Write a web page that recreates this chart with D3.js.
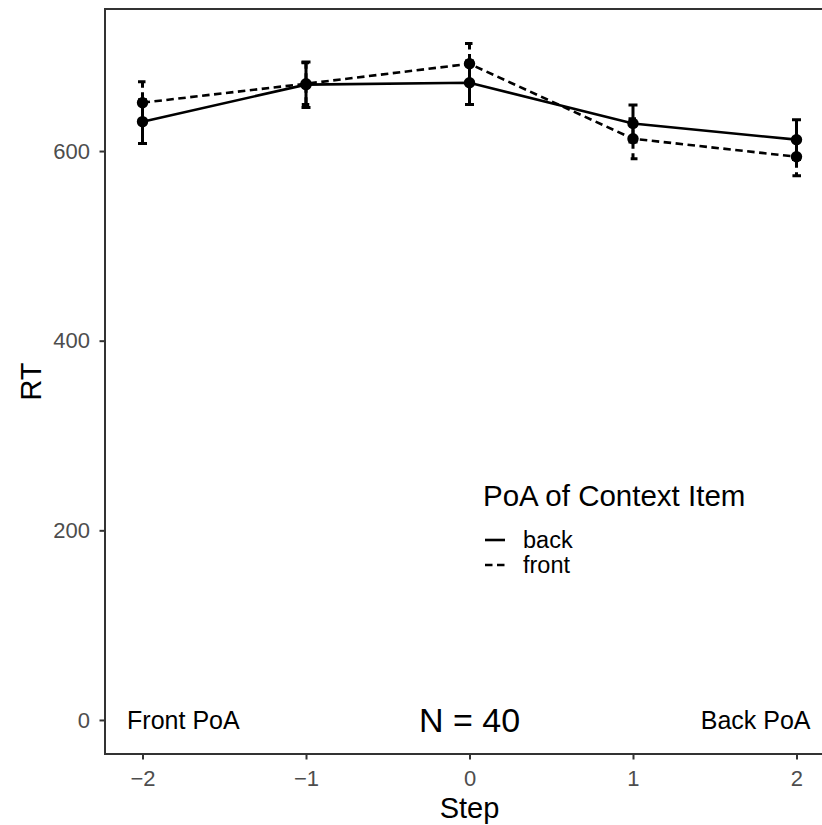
<!DOCTYPE html>
<html><head><meta charset="utf-8">
<script src="https://cdn.jsdelivr.net/npm/d3@7"></script>
<style>body{margin:0;background:#fff}svg{display:block}text{font-family:"Liberation Sans",Arial,Helvetica,sans-serif}</style>
</head><body>
<script>
const steps = [-2, -1, 0, 1, 2];
const backRT = [631, 670, 672, 629, 612];
const backSE = [23, 24, 23, 19.5, 21];
const frontRT = [651, 671, 692, 613, 594];
const frontSE = [22, 22, 21.5, 21, 20];
const yTicks = [0, 200, 400, 600];
const xTicks = [-2, -1, 0, 1, 2];
const seriesNames = ["back", "front"];
const annotations = [{x: -1.75, text: "Front PoA", size: 25}, {x: 0, text: "N = 40", size: 34}, {x: 1.75, text: "Back PoA", size: 25}];

const W = 822, H = 825;
const svg = d3.select("body").append("svg").attr("width", W).attr("height", H);
const x = d3.scaleLinear().domain([-2.2294, 2.2294]).range([105, 834]);
const y = d3.scaleLinear().domain([-35.9, 749.8]).range([754, 9]);

const series = [
  {name: "back", vals: backRT, se: backSE, dash: null},
  {name: "front", vals: frontRT, se: frontSE, dash: "7.5,4.5"}
];

// panel border
svg.append("rect").attr("x", x.range()[0]).attr("y", y.range()[1])
  .attr("width", x.range()[1] - x.range()[0]).attr("height", y.range()[0] - y.range()[1])
  .attr("fill", "none").attr("stroke", "#333").attr("stroke-width", 2);

// axes
const xAxis = d3.axisBottom(x).tickValues(xTicks).tickSize(5.5).tickPadding(10.5)
  .tickFormat(d => d < 0 ? "\u2212" + Math.abs(d) : d);
const gx = svg.append("g").attr("transform", `translate(0,${y.range()[0]})`).call(xAxis);
gx.select(".domain").remove();
gx.selectAll(".tick line").attr("stroke", "#333").attr("stroke-width", 2);
gx.selectAll(".tick text").attr("fill", "#4d4d4d").style("font-size", "22px");

const yAxis = d3.axisLeft(y).tickValues(yTicks).tickSize(5.5).tickPadding(9.5);
const gy = svg.append("g").attr("transform", `translate(${x.range()[0]},0)`).call(yAxis);
gy.select(".domain").remove();
gy.selectAll(".tick line").attr("stroke", "#333").attr("stroke-width", 2);
gy.selectAll(".tick text").attr("fill", "#4d4d4d").style("font-size", "22px");

// axis titles
svg.append("text").attr("x", (x.range()[0] + x.range()[1]) / 2).attr("y", 818)
  .attr("text-anchor", "middle").style("font-size", "29px").text("Step");
svg.append("text").attr("transform", `translate(41,${(y.range()[0] + y.range()[1]) / 2}) rotate(-90)`)
  .attr("text-anchor", "middle").style("font-size", "29px").text("RT");

// annotations
annotations.forEach(a => {
  svg.append("text").attr("x", x(a.x)).attr("y", y(0)).attr("dy", "0.36em")
    .attr("text-anchor", "middle").style("font-size", a.size + "px").attr("fill", "#000").text(a.text);
});

// lines
const line = d3.line().x((d, i) => x(steps[i])).y(d => y(d));
series.forEach(s => {
  svg.append("path").attr("d", line(s.vals)).attr("fill", "none").attr("stroke", "#000")
    .attr("stroke-width", 2.6).attr("stroke-dasharray", s.dash);
});

// error bars
const capHalf = 4.5;
series.forEach(s => {
  s.vals.forEach((v, i) => {
    const cx = x(steps[i]), top = y(v + s.se[i]), bot = y(v - s.se[i]);
    const p = d3.path();
    p.moveTo(cx - capHalf, top); p.lineTo(cx + capHalf, top); p.lineTo(cx, top);
    p.lineTo(cx, bot); p.lineTo(cx - capHalf, bot); p.lineTo(cx + capHalf, bot);
    svg.append("path").attr("d", p.toString()).attr("fill", "none").attr("stroke", "#000")
      .attr("stroke-width", 3).attr("stroke-dasharray", s.dash);
  });
});

// points
series.forEach(s => {
  svg.selectAll(null).data(s.vals).enter().append("circle")
    .attr("cx", (d, i) => x(steps[i])).attr("cy", d => y(d)).attr("r", 5.7).attr("fill", "#000");
});

// legend
const lg = svg.append("g");
lg.append("text").attr("x", 483).attr("y", 506).style("font-size", "29.5px").text("PoA of Context Item");
series.forEach((s, i) => {
  const ly = 540 + i * 25;
  lg.append("line").attr("x1", 485).attr("x2", 505).attr("y1", ly).attr("y2", ly)
    .attr("stroke", "#000").attr("stroke-width", 2.6).attr("stroke-dasharray", s.dash);
  lg.append("text").attr("x", 523).attr("y", ly).attr("dy", "0.36em")
    .style("font-size", "23.5px").text(seriesNames[i]);
});
</script>
</body></html>
